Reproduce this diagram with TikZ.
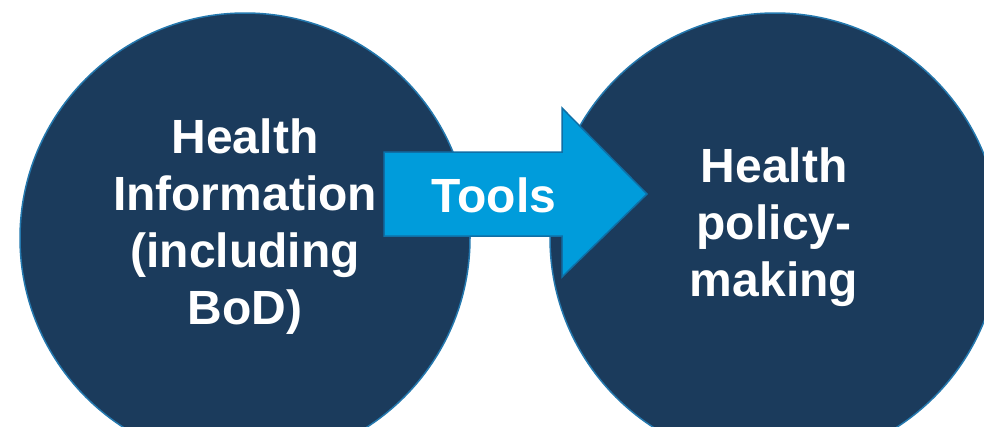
\documentclass[tikz,border=0pt]{standalone}
\usepackage{fontspec}
\setmainfont{Liberation Sans}
\definecolor{navy}{HTML}{1B3B5C}
\definecolor{rim}{HTML}{2478AE}
\definecolor{arrowfill}{HTML}{009CDB}
\definecolor{arrowrim}{HTML}{0F6FA6}
\begin{document}
\begin{tikzpicture}[x=1pt,y=-1pt,
  bubble/.style={circle, fill=navy, draw=rim, line width=1.5pt, minimum size=450pt, inner sep=0pt},
  label/.style={text=white, font=\bfseries\fontsize{48}{57}\selectfont, align=center, inner sep=0pt}]
\useasboundingbox (0,0) rectangle (984,426);
\fill[white] (0,0) rectangle (984,426);
\node[bubble] (left) at (245,238) {};
\node[bubble] (right) at (775,238) {};
\draw[fill=arrowfill, draw=arrowrim, line width=1.5pt, line join=miter]
  (384,152) -- (562,152) -- (562,108) -- (647,194) -- (562,277) -- (562,236) -- (384,236) -- cycle;
\node[label, anchor=north] (lefttext) at (245,118.5) {Health\\Information\\(including\\BoD)};
\node[label, anchor=north] (righttext) at (774,147.5) {Health\\policy-\\making};
\node[label, anchor=base] (tools) at (494,212) {Tools};
\end{tikzpicture}
\end{document}
